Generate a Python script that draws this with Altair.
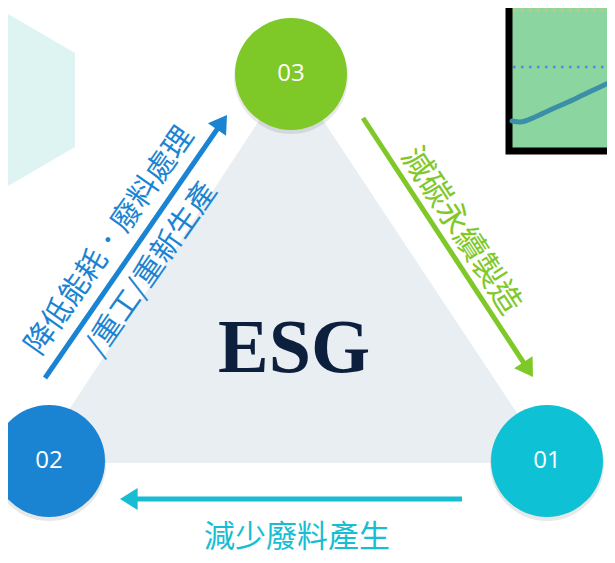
import altair as alt
import pandas as pd
import numpy as np

# ---- data ----
node_labels = ["01", "02", "03"]
node_x = [547, 49, 291]
node_y = [461, 461, 74]
node_colors = ["#0fc1d5", "#1b84d2", "#7ec828"]

tri_x = [34, 291, 550]
tri_top = [463, 72, 463]
tri_bottom = [463, 463, 463]

hex_x = [-87, -6, 75]
hex_top = [53, 6, 53]
hex_bottom = [147, 194, 147]

arrow_x1 = [45, 363, 462]
arrow_y1 = [378, 118, 499]
arrow_x2 = [227, 533, 120]
arrow_y2 = [115, 377, 499]
arrow_colors = ["#1b84d2", "#7ec828", "#17bed3"]

label_texts = ["降低能耗．廢料處理", "/重工/重新生產", "減碳永續製造", "減少廢料產生"]
label_x = [110, 152, 461, 297]
label_y = [241, 269, 231, 538]
label_angle = [305, 305, 57, 0]
label_size = [30, 30, 32, 31]
label_colors = ["#1b84d2", "#1b84d2", "#7ec828", "#17bed3"]

inset_curve_x = [512, 520, 535, 550, 566, 583, 600, 615, 625]
inset_curve_y = [121, 122, 117, 110, 103, 95, 87, 80, 76]
inset_ref_y = [10, 67]
inset_ref_colors = ["#f2b766", "#4f86e8"]

# ---- scales: page has an 8px margin, so the view spans screen 8..607 x 8..555 ----
XS = alt.Scale(domain=[8, 607], nice=False, zero=False)
YS = alt.Scale(domain=[8, 555], nice=False, zero=False, reverse=True)


def X(f):
    return alt.X(f, type="quantitative", scale=XS, axis=None)


def Y(f):
    return alt.Y(f, type="quantitative", scale=YS, axis=None)


# hexagon (background)
hex_df = pd.DataFrame({"x": hex_x, "y": hex_top, "y2": hex_bottom})
hexagon = alt.Chart(hex_df).mark_area(color="#ddf4f2", opacity=1).encode(
    x=X("x"), y=Y("y"), y2="y2"
)

# inset box
box_df = pd.DataFrame({"x": [509], "x2": [660], "y": [-20], "y2": [151]})
box = alt.Chart(box_df).mark_rect(fill="#8bd5a0", stroke="#000000", strokeWidth=7).encode(
    x=X("x"), x2="x2", y=Y("y"), y2="y2"
)
ref_df = pd.DataFrame({"y": inset_ref_y, "c": inset_ref_colors, "x": [513] * 2, "x2": [640] * 2})
refs = alt.Chart(ref_df).mark_rule(strokeWidth=2.5, strokeDash=[2.5, 5.5]).encode(
    x=X("x"), x2="x2", y=Y("y"), color=alt.Color("c:N", scale=None)
)
curve_df = pd.DataFrame({"x": inset_curve_x, "y": inset_curve_y})
curve = alt.Chart(curve_df).mark_line(
    color="#3b90a8", strokeWidth=5, interpolate="monotone", strokeCap="round"
).encode(x=X("x"), y=Y("y"))

# triangle
tri_df = pd.DataFrame({"x": tri_x, "y": tri_top, "y2": tri_bottom})
triangle = alt.Chart(tri_df).mark_area(color="#e8eef2", opacity=1).encode(
    x=X("x"), y=Y("y"), y2="y2"
)

# arrows
x1 = np.array(arrow_x1, float)
y1 = np.array(arrow_y1, float)
x2 = np.array(arrow_x2, float)
y2 = np.array(arrow_y2, float)
d = np.hypot(x2 - x1, y2 - y1)
ux, uy = (x2 - x1) / d, (y2 - y1) / d
ang = (np.degrees(np.arctan2(ux, -uy)) + 360) % 360
arr_df = pd.DataFrame({
    "x": x1, "y": y1,
    "x2": x2 - 10 * ux, "y2": y2 - 10 * uy,
    "hx": x2 - 8.8 * ux, "hy": y2 - 8.8 * uy,
    "ang": ang, "c": arrow_colors,
})
shafts = alt.Chart(arr_df).mark_rule(strokeWidth=5).encode(
    x=X("x"), y=Y("y"), x2="x2", y2="y2", color=alt.Color("c:N", scale=None)
)
heads = alt.Chart(arr_df).mark_point(
    shape="M0,-0.8L1,0.8L-1,0.8Z", filled=True, size=484, opacity=1
).encode(
    x=X("hx"), y=Y("hy"), angle=alt.Angle("ang:Q", scale=None),
    color=alt.Color("c:N", scale=None),
)

# circles (Vega circle diameter = sqrt(size))
node_df = pd.DataFrame({"label": node_labels, "x": node_x, "y": node_y, "c": node_colors})
node_df["ys"] = node_df["y"] + 3
shadow = alt.Chart(node_df).mark_circle(color="#000000", opacity=0.09, size=114 * 114).encode(
    x=X("x"), y=Y("ys")
)
circles = alt.Chart(node_df).mark_circle(size=112 * 112, opacity=1).encode(
    x=X("x"), y=Y("y"), color=alt.Color("c:N", scale=None)
)
node_text = alt.Chart(node_df).mark_text(
    font="Open Sans", fontSize=24, color="white", baseline="middle", align="center"
).encode(x=X("x"), y=Y("y"), text="label:N")

# labels
lab_df = pd.DataFrame({
    "t": label_texts, "x": label_x, "y": label_y, "a": label_angle,
    "s": label_size, "c": label_colors,
})
labels = alt.Chart(lab_df).mark_text(
    font="Noto Sans CJK TC", baseline="middle", align="center"
).encode(
    x=X("x"), y=Y("y"), text="t:N", angle=alt.Angle("a:Q", scale=None),
    size=alt.Size("s:Q", scale=None), color=alt.Color("c:N", scale=None),
)

# ESG
esg_df = pd.DataFrame({"t": ["ESG"], "x": [294], "y": [372]})
esg = alt.Chart(esg_df).mark_text(
    font="Liberation Serif", fontWeight="bold", fontSize=76, color="#0c1f3c",
    baseline="alphabetic", align="center",
).encode(x=X("x"), y=Y("y"), text="t:N")

chart = alt.layer(
    hexagon, box, refs, curve, triangle, shafts, heads, shadow, circles, node_text, labels, esg
).properties(
    width=599, height=547, padding=0, autosize=alt.AutoSizeParams(type="none"),
    background="white",
).configure_view(stroke=None)

chart.save("out.html", embed_options={"renderer": "svg", "actions": False})
